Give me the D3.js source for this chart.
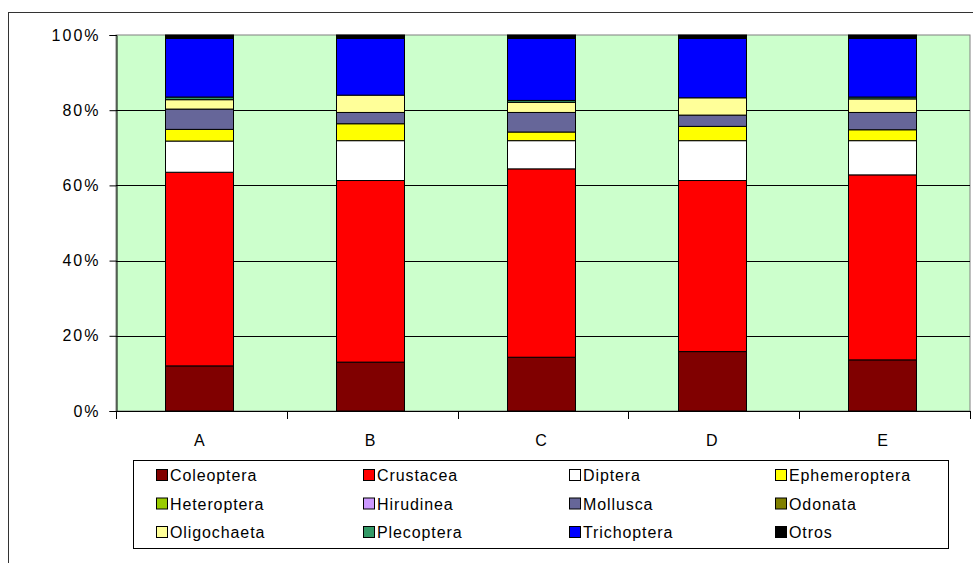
<!DOCTYPE html>
<html>
<head>
<meta charset="utf-8">
<script src="https://cdn.jsdelivr.net/npm/d3@7/dist/d3.min.js"></script>
<style>
  html, body { margin: 0; padding: 0; background: #fff; }
  svg { display: block; font-family: "Liberation Sans", Arial, sans-serif; }
</style>
</head>
<body>
<svg id="chart" width="973" height="563"></svg>
<script>
// Sites and taxa (bottom-to-top stacking order)
const sites = ["A", "B", "C", "D", "E"];
const taxa = ["Coleoptera", "Crustacea", "Diptera", "Ephemeroptera", "Heteroptera", "Hirudinea",
              "Mollusca", "Odonata", "Oligochaeta", "Plecoptera", "Trichoptera", "Otros"];
const taxaColors = ["#800000", "#FF0000", "#FFFFFF", "#FFFF00", "#99CC00", "#CC99FF",
                    "#666699", "#808000", "#FFFF99", "#339966", "#0000FF", "#000000"];

// Relative abundance (%) per site, one array per taxon, in site order A..E
const coleoptera    = [12.0, 13.0, 14.3, 15.8, 13.6];
const crustacea     = [51.5, 48.3, 50.1, 45.5, 49.2];
const diptera       = [ 8.3, 10.6,  7.5, 10.6,  9.1];
const ephemeroptera = [ 3.1,  4.5,  2.3,  3.8,  2.9];
const heteroptera   = [ 0.0,  0.0,  0.0,  0.0,  0.0];
const hirudinea     = [ 0.0,  0.0,  0.0,  0.0,  0.0];
const mollusca      = [ 5.4,  3.0,  5.2,  3.0,  4.6];
const odonata       = [ 0.0,  0.0,  0.0,  0.0,  0.0];
const oligochaeta   = [ 2.5,  4.6,  2.7,  4.6,  3.6];
const plecoptera    = [ 0.7,  0.0,  0.5,  0.0,  0.5];
const trichoptera   = [15.6, 15.1, 16.5, 15.8, 15.6];
const otros         = [ 0.9,  0.9,  0.9,  0.9,  0.9];

const yTicks = [0, 0.2, 0.4, 0.6, 0.8, 1.0];

const seriesValues = [coleoptera, crustacea, diptera, ephemeroptera, heteroptera, hirudinea,
                      mollusca, odonata, oligochaeta, plecoptera, trichoptera, otros];

// Table for d3.stack: one row per site
const rows = sites.map((s, i) => {
  const r = { site: s };
  taxa.forEach((t, k) => { r[t] = seriesValues[k][i]; });
  return r;
});

const svg = d3.select("#chart");
const plot = { left: 116, right: 970, top: 35, bottom: 411 };

// Outer chart frame (extends past the visible window on the right and bottom)
svg.append("rect")
  .attr("x", 8.5).attr("y", 12.5).attr("width", 1000).attr("height", 600)
  .attr("fill", "#fff").attr("stroke", "#333").attr("stroke-width", 1);

const x = d3.scaleBand().domain(sites).range([plot.left, plot.right])
  .paddingInner(0.6).paddingOuter(0.3).align(0.48);
const y = d3.scaleLinear().domain([0, 1]).range([plot.bottom, plot.top]);
const color = d3.scaleOrdinal().domain(taxa).range(taxaColors);

// Plot background
svg.append("rect")
  .attr("x", plot.left).attr("y", plot.top)
  .attr("width", plot.right - plot.left).attr("height", plot.bottom - plot.top)
  .attr("fill", "#CCFFCC").attr("stroke", "#808080").attr("stroke-width", 1);

// Horizontal gridlines
svg.append("g").selectAll("line")
  .data(yTicks.filter(t => t > 0 && t < 1))
  .join("line")
  .attr("x1", plot.left).attr("x2", plot.right)
  .attr("y1", d => Math.round(y(d)) + 0.5).attr("y2", d => Math.round(y(d)) + 0.5)
  .attr("stroke", "#000").attr("stroke-width", 1);

// Stacked (100%) bars
const stack = d3.stack().keys(taxa).offset(d3.stackOffsetExpand);
const layers = stack(rows);

svg.append("g").selectAll("g")
  .data(layers)
  .join("g")
  .attr("fill", d => color(d.key))
  .selectAll("rect")
  .data(d => d.filter(p => p[1] - p[0] > 0))
  .join("rect")
  .attr("x", d => Math.round(x(d.data.site)) + 0.5)
  .attr("width", Math.round(x.bandwidth()))
  .attr("y", d => y(d[1]))
  .attr("height", d => y(d[0]) - y(d[1]))
  .attr("stroke", "#000").attr("stroke-width", 1);

// Y axis
const yAxis = d3.axisLeft(y).tickValues(yTicks).tickFormat(d3.format(".0%")).tickSizeOuter(0).tickSize(7).tickPadding(9);
const gy = svg.append("g").attr("transform", `translate(${plot.left + 0.5},0)`).call(yAxis);
gy.select(".domain").attr("stroke", "#000");
gy.selectAll(".tick line").attr("stroke", "#000");
gy.selectAll("text").attr("font-size", 16).attr("fill", "#000")
  .attr("letter-spacing", 2)
  .attr("font-family", "'Liberation Sans', Arial, sans-serif");

// X axis: ticks at the category boundaries
const bounds = d3.range(sites.length + 1).map(i => plot.left + i * (plot.right - plot.left) / sites.length);
const gx = svg.append("g");
gx.append("line")
  .attr("x1", plot.left).attr("x2", plot.right)
  .attr("y1", plot.bottom + 0.5).attr("y2", plot.bottom + 0.5)
  .attr("stroke", "#000");
gx.selectAll("line.tk").data(bounds).join("line").attr("class", "tk")
  .attr("x1", d => Math.round(d) + 0.5).attr("x2", d => Math.round(d) + 0.5)
  .attr("y1", plot.bottom).attr("y2", plot.bottom + 8)
  .attr("stroke", "#000");
gx.selectAll("text").data(sites).join("text")
  .attr("x", d => x(d) + x.bandwidth() / 2)
  .attr("y", 446)
  .attr("text-anchor", "middle")
  .attr("font-size", 16).attr("fill", "#000")
  .text(d => d);

// Legend
const legend = svg.append("g");
legend.append("rect")
  .attr("x", 133.5).attr("y", 460.5).attr("width", 815).attr("height", 88)
  .attr("fill", "#fff").attr("stroke", "#000").attr("stroke-width", 1);

const colX = [156, 363, 569, 775];
const rowY = [475, 503.5, 532];
const items = legend.selectAll("g.item").data(taxa).join("g").attr("class", "item")
  .attr("transform", (d, i) => `translate(${colX[i % 4]},${rowY[Math.floor(i / 4)]})`);
items.append("rect")
  .attr("x", 0.5).attr("y", -5.5).attr("width", 11).attr("height", 11)
  .attr("fill", d => color(d)).attr("stroke", "#000").attr("stroke-width", 1);
items.append("text")
  .attr("x", 14).attr("y", 6)
  .attr("font-size", 16).attr("fill", "#000")
  .attr("letter-spacing", 0.9)
  .text(d => d);
</script>
</body>
</html>
